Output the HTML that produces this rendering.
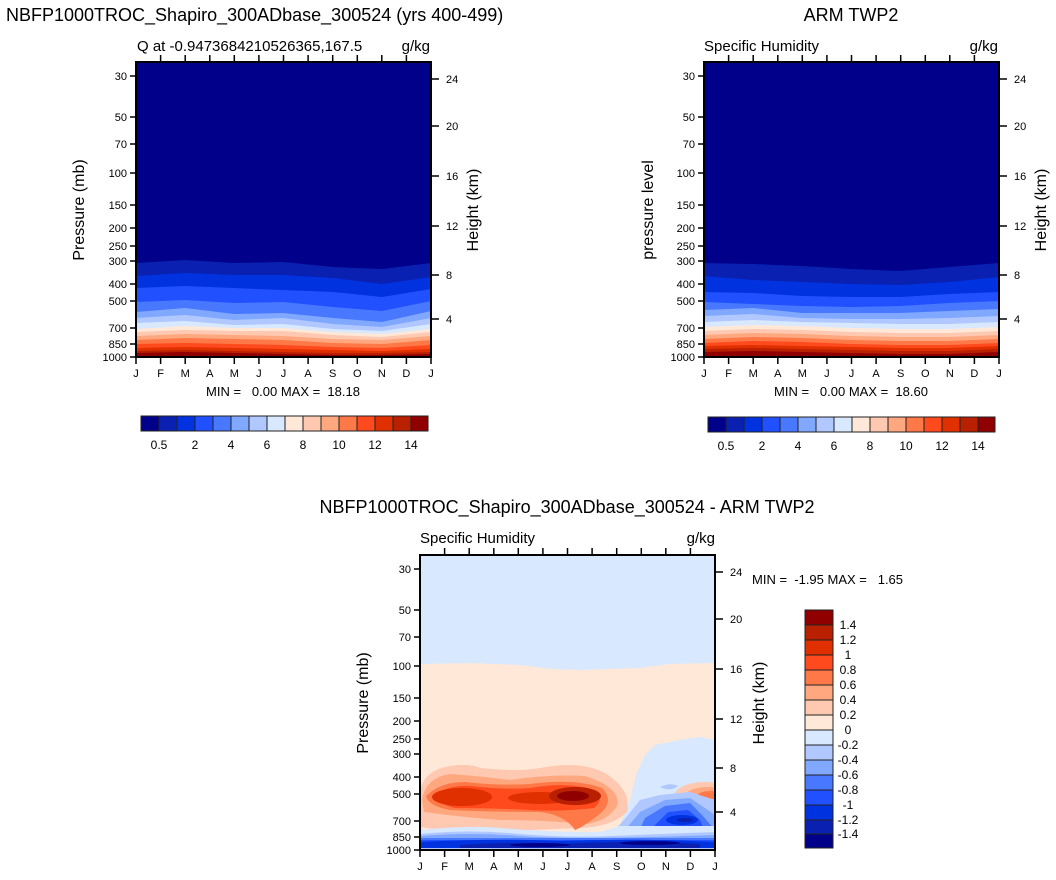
<!DOCTYPE html>
<html><head><meta charset="utf-8"><style>
html,body{margin:0;padding:0;background:#fff;}
svg{display:block;font-family:"Liberation Sans",Arial,sans-serif;}
.pre{white-space:pre;}
</style></head><body>
<svg width="1056" height="880" viewBox="0 0 1056 880" xmlns="http://www.w3.org/2000/svg">
<defs>
<g id="pticks" stroke="#000" stroke-width="1.5">
<line x1="-6" y1="76" x2="0" y2="76"/><line x1="-6" y1="117" x2="0" y2="117"/><line x1="-6" y1="144" x2="0" y2="144"/><line x1="-6" y1="173" x2="0" y2="173"/><line x1="-6" y1="205" x2="0" y2="205"/><line x1="-6" y1="228" x2="0" y2="228"/><line x1="-6" y1="246" x2="0" y2="246"/><line x1="-6" y1="261" x2="0" y2="261"/><line x1="-6" y1="284" x2="0" y2="284"/><line x1="-6" y1="301" x2="0" y2="301"/><line x1="-6" y1="328" x2="0" y2="328"/><line x1="-6" y1="344" x2="0" y2="344"/><line x1="-6" y1="357" x2="0" y2="357"/>
</g>
<g id="plabels" font-size="11" text-anchor="end">
<text x="-9" y="80">30</text><text x="-9" y="121">50</text><text x="-9" y="148">70</text><text x="-9" y="177">100</text><text x="-9" y="209">150</text><text x="-9" y="232">200</text><text x="-9" y="250">250</text><text x="-9" y="265">300</text><text x="-9" y="288">400</text><text x="-9" y="305">500</text><text x="-9" y="332">700</text><text x="-9" y="348">850</text><text x="-9" y="361">1000</text>
</g>
<g id="hticks" stroke="#000" stroke-width="1.5">
<line x1="0" y1="79" x2="8" y2="79"/><line x1="0" y1="126" x2="8" y2="126"/><line x1="0" y1="176" x2="8" y2="176"/><line x1="0" y1="226" x2="8" y2="226"/><line x1="0" y1="275" x2="8" y2="275"/><line x1="0" y1="319" x2="8" y2="319"/>
</g>
<g id="hlabels" font-size="11">
<text x="15" y="83">24</text><text x="15" y="130">20</text><text x="15" y="180">16</text><text x="15" y="230">12</text><text x="15" y="279">8</text><text x="15" y="323">4</text>
</g>
<g id="xaxis">
<g stroke="#000" stroke-width="1.5">
<line x1="0" y1="0" x2="0" y2="7"/><line x1="24.6" y1="0" x2="24.6" y2="7"/><line x1="49.2" y1="0" x2="49.2" y2="7"/><line x1="73.8" y1="0" x2="73.8" y2="7"/><line x1="98.3" y1="0" x2="98.3" y2="7"/><line x1="122.9" y1="0" x2="122.9" y2="7"/><line x1="147.5" y1="0" x2="147.5" y2="7"/><line x1="172.1" y1="0" x2="172.1" y2="7"/><line x1="196.7" y1="0" x2="196.7" y2="7"/><line x1="221.3" y1="0" x2="221.3" y2="7"/><line x1="245.8" y1="0" x2="245.8" y2="7"/><line x1="270.4" y1="0" x2="270.4" y2="7"/><line x1="295" y1="0" x2="295" y2="7"/>
</g>
</g>
<g id="xtop" stroke="#000" stroke-width="1.5">
<line x1="24.6" y1="0" x2="24.6" y2="-7"/><line x1="49.2" y1="0" x2="49.2" y2="-7"/><line x1="73.8" y1="0" x2="73.8" y2="-7"/><line x1="98.3" y1="0" x2="98.3" y2="-7"/><line x1="122.9" y1="0" x2="122.9" y2="-7"/><line x1="147.5" y1="0" x2="147.5" y2="-7"/><line x1="172.1" y1="0" x2="172.1" y2="-7"/><line x1="196.7" y1="0" x2="196.7" y2="-7"/><line x1="221.3" y1="0" x2="221.3" y2="-7"/><line x1="245.8" y1="0" x2="245.8" y2="-7"/><line x1="270.4" y1="0" x2="270.4" y2="-7"/>
</g>
<g id="xlabels" font-size="11" text-anchor="middle">
<text x="0" y="20">J</text><text x="24.6" y="20">F</text><text x="49.2" y="20">M</text><text x="73.8" y="20">A</text><text x="98.3" y="20">M</text><text x="122.9" y="20">J</text><text x="147.5" y="20">J</text><text x="172.1" y="20">A</text><text x="196.7" y="20">S</text><text x="221.3" y="20">O</text><text x="245.8" y="20">N</text><text x="270.4" y="20">D</text><text x="295" y="20">J</text>
</g>
<g id="hcbar" stroke="#222" stroke-width="1">
<rect x="0" width="18" height="15" fill="#00008a"/><rect x="18" width="18" height="15" fill="#0a20b0"/><rect x="36" width="18" height="15" fill="#0032e0"/><rect x="54" width="18" height="15" fill="#2050ff"/><rect x="72" width="18" height="15" fill="#4878ff"/><rect x="90" width="18" height="15" fill="#80a8ff"/><rect x="108" width="18" height="15" fill="#b0c8ff"/><rect x="126" width="18" height="15" fill="#d8e8ff"/><rect x="144" width="18" height="15" fill="#ffe8d8"/><rect x="162" width="18" height="15" fill="#ffc8b0"/><rect x="180" width="18" height="15" fill="#ffa880"/><rect x="198" width="18" height="15" fill="#ff7848"/><rect x="216" width="18" height="15" fill="#ff4a1e"/><rect x="234" width="18" height="15" fill="#e03000"/><rect x="252" width="18" height="15" fill="#b82000"/><rect x="270" width="17" height="15" fill="#900000"/>
</g>
<g id="hcblab" font-size="12" text-anchor="middle">
<text x="18" y="33">0.5</text><text x="54" y="33">2</text><text x="90" y="33">4</text><text x="126" y="33">6</text><text x="162" y="33">8</text><text x="198" y="33">10</text><text x="234" y="33">12</text><text x="270" y="33">14</text>
</g>
</defs>

<!-- ========== Top-left ========== -->
<text x="6" y="21" font-size="18">NBFP1000TROC_Shapiro_300ADbase_300524 (yrs 400-499)</text>
<text x="137" y="51" font-size="15">Q at -0.9473684210526365,167.5</text>
<text x="430" y="51" font-size="15" text-anchor="end">g/kg</text>
<g>
<rect x="136" y="62" width="295" height="295" fill="#00008a"/>
<g stroke="none">
<polygon fill="#0a20b0" points="136,263 185,260 234,263 283,262 333,267 382,269 431,263 431,357 136,357"/>
<polygon fill="#0032e0" points="136,276 185,273 234,275 283,275 333,278 382,284 431,277 431,357 136,357"/>
<polygon fill="#2050ff" points="136,288 185,286 234,288 283,290 333,292 382,297 431,289 431,357 136,357"/>
<polygon fill="#4878ff" points="136,302 185,300 234,303 283,302 333,307 382,311 431,301 431,357 136,357"/>
<polygon fill="#80a8ff" points="136,312 185,308 234,314 283,313 333,318 382,322 431,311 431,357 136,357"/>
<polygon fill="#b0c8ff" points="136,318 185,315 234,320 283,318 333,324 382,327 431,318 431,357 136,357"/>
<polygon fill="#d8e8ff" points="136,323 185,321 234,325 283,324 333,329 382,331 431,324 431,357 136,357"/>
<polygon fill="#ffe8d8" points="136,329 185,326 234,328 283,328 333,332 382,334 431,329 431,357 136,357"/>
<polygon fill="#ffc8b0" points="136,332 185,330 234,331 283,331 333,335 382,337 431,332 431,357 136,357"/>
<polygon fill="#ffa880" points="136,336 185,334 234,335 283,336 333,339 382,340 431,336 431,357 136,357"/>
<polygon fill="#ff7848" points="136,340 185,338 234,339 283,340 333,343 382,344 431,340 431,357 136,357"/>
<polygon fill="#ff4a1e" points="136,344 185,343 234,344 283,345 333,347 382,348 431,345 431,357 136,357"/>
<polygon fill="#e03000" points="136,348 185,347 234,348 283,349 333,350 382,351 431,349 431,357 136,357"/>
<polygon fill="#b82000" points="136,351 185,350 234,351 283,352 333,353 382,353 431,352 431,357 136,357"/>
<polygon fill="#900000" points="136,353 185,352 234,353 283,354 333,355 382,355 431,354 431,357 136,357"/>
</g>
<rect x="136" y="62" width="295" height="295" fill="none" stroke="#000" stroke-width="2"/>
<g transform="translate(136,0)"><use href="#pticks"/><use href="#plabels"/></g>
<g transform="translate(431,0)"><use href="#hticks"/><use href="#hlabels"/></g>
<g transform="translate(136,357)"><use href="#xaxis"/><use href="#xlabels"/></g>
<g transform="translate(136,62)"><use href="#xtop"/></g>
<text transform="translate(84,210) rotate(-90)" font-size="16" text-anchor="middle">Pressure (mb)</text>
<text transform="translate(478,210) rotate(-90)" font-size="16" text-anchor="middle">Height (km)</text>
<text class="pre" x="283" y="396" font-size="13" text-anchor="middle">MIN =   0.00 MAX =  18.18</text>
<g transform="translate(141,416)"><use href="#hcbar"/><use href="#hcblab"/></g>
</g>

<!-- ========== Top-right ========== -->
<text x="851" y="21" font-size="18" text-anchor="middle">ARM TWP2</text>
<text x="704" y="51" font-size="15">Specific Humidity</text>
<text x="998" y="51" font-size="15" text-anchor="end">g/kg</text>
<g>
<rect x="704" y="62" width="295" height="295" fill="#00008a"/>
<polygon fill="#0a20b0" points="704,263 753,264 802,266 851,269 900,271 949,267 999,263 999,357 704,357"/>
<polygon fill="#0032e0" points="704,276 753,280 802,282 851,284 900,285 949,282 999,277 999,357 704,357"/>
<polygon fill="#2050ff" points="704,292 753,293 802,296 851,297 900,297 949,294 999,292 999,357 704,357"/>
<polygon fill="#4878ff" points="704,302 753,304 802,306 851,307 900,306 949,303 999,301 999,357 704,357"/>
<polygon fill="#80a8ff" points="704,310 753,308 802,313 851,313 900,313 949,311 999,309 999,357 704,357"/>
<polygon fill="#b0c8ff" points="704,316 753,314 802,318 851,319 900,319 949,318 999,316 999,357 704,357"/>
<polygon fill="#d8e8ff" points="704,322 753,320 802,322 851,323 900,324 949,324 999,322 999,357 704,357"/>
<polygon fill="#ffe8d8" points="704,327 753,325 802,326 851,328 900,329 949,329 999,327 999,357 704,357"/>
<polygon fill="#ffc8b0" points="704,331 753,329 802,330 851,332 900,333 949,333 999,331 999,357 704,357"/>
<polygon fill="#ffa880" points="704,335 753,333 802,334 851,336 900,337 949,337 999,335 999,357 704,357"/>
<polygon fill="#ff7848" points="704,339 753,337 802,338 851,340 900,341 949,341 999,339 999,357 704,357"/>
<polygon fill="#ff4a1e" points="704,343 753,341 802,342 851,344 900,345 949,345 999,343 999,357 704,357"/>
<polygon fill="#e03000" points="704,346 753,345 802,346 851,347 900,348 949,348 999,346 999,357 704,357"/>
<polygon fill="#b82000" points="704,349 753,348 802,349 851,350 900,351 949,351 999,349 999,357 704,357"/>
<polygon fill="#900000" points="704,352 753,351 802,352 851,353 900,354 949,354 999,352 999,357 704,357"/>
<rect x="704" y="62" width="295" height="295" fill="none" stroke="#000" stroke-width="2"/>
<g transform="translate(704,0)"><use href="#pticks"/><use href="#plabels"/></g>
<g transform="translate(999,0)"><use href="#hticks"/><use href="#hlabels"/></g>
<g transform="translate(704,357)"><use href="#xaxis"/><use href="#xlabels"/></g>
<g transform="translate(704,62)"><use href="#xtop"/></g>
<text transform="translate(653,210) rotate(-90)" font-size="16" text-anchor="middle">pressure level</text>
<text transform="translate(1046,210) rotate(-90)" font-size="16" text-anchor="middle">Height (km)</text>
<text class="pre" x="851" y="396" font-size="13" text-anchor="middle">MIN =   0.00 MAX =  18.60</text>
<g transform="translate(708,417)"><use href="#hcbar"/><use href="#hcblab"/></g>
</g>

<!-- ========== Bottom diff ========== -->
<text x="567" y="513" font-size="18" text-anchor="middle">NBFP1000TROC_Shapiro_300ADbase_300524 - ARM TWP2</text>
<text x="420" y="543" font-size="15">Specific Humidity</text>
<text x="715" y="543" font-size="15" text-anchor="end">g/kg</text>
<svg x="420" y="555" width="295" height="295" viewBox="420 555 295 295" overflow="hidden">
<rect x="420" y="555" width="295" height="295" fill="#d8e8ff"/>
<polygon fill="#ffe8d8" points="420,664 470,663 520,665 550,669 580,670 610,669 640,668 670,664 714,663 714,850 420,850"/>
<path fill="#d8e8ff" d="M612,850 L622,820 L630,800 L636,775 L645,755 L655,745 L680,740 L700,737 L715,740 L715,850 Z"/>
<path fill="#b0c8ff" d="M660,787 Q670,782 678,786 Q670,792 660,787 Z"/>
<ellipse cx="705" cy="795" rx="30" ry="13" fill="#ffc8b0"/>
<ellipse cx="708" cy="795" rx="22" ry="8" fill="#ffa880"/>
<ellipse cx="712" cy="795" rx="14" ry="4" fill="#ff7848"/>
<path fill="#ffc8b0" d="M420,790 Q425,770 450,766 Q470,763 480,768 Q520,772 540,768 Q580,760 605,773 Q632,790 627,812 Q612,827 580,828 Q530,830 490,832 Q450,832 420,827 Z"/>
<path fill="#ffa880" d="M422,800 Q425,778 450,774 Q480,776 510,780 Q550,774 585,776 Q622,788 617,806 Q607,822 585,824 Q540,820 500,820 Q460,817 424,812 Z"/>
<path fill="#ff7848" d="M426,796 Q440,782 465,782 Q500,786 530,784 Q575,778 602,788 Q614,800 602,812 Q585,826 575,830 Q565,815 540,812 Q490,812 450,810 Q428,806 426,796 Z"/>
<path fill="#ff4a1e" d="M432,796 Q448,785 470,786 Q505,790 530,788 Q570,781 597,791 Q604,800 594,808 Q560,812 530,810 Q490,808 455,808 Q436,803 432,796 Z"/>
<ellipse cx="462" cy="797" rx="30" ry="9" fill="#e03000"/>
<ellipse cx="540" cy="798" rx="32" ry="6" fill="#e03000"/>
<ellipse cx="575" cy="796" rx="26" ry="9" fill="#b82000"/>
<ellipse cx="573" cy="796" rx="16" ry="5" fill="#900000"/>
<path fill="#b0c8ff" d="M612,850 L615,830 L628,815 L640,800 L660,795 L690,792 L715,800 L715,850 Z"/>
<path fill="#80a8ff" d="M620,850 L625,830 L640,812 L665,800 L690,798 L705,808 L715,815 L715,850 Z"/>
<path fill="#4878ff" d="M635,840 L645,818 L665,806 L690,803 L702,815 L715,830 L715,850 L635,850 Z"/>
<path fill="#2050ff" d="M650,830 L668,812 L688,810 L700,820 L705,832 L680,838 Z"/>
<ellipse cx="682" cy="820" rx="16" ry="5" fill="#0032e0"/>
<ellipse cx="685" cy="820" rx="8" ry="2" fill="#0a20b0"/>
<path fill="#d8e8ff" d="M420,830 Q470,825 500,828 Q560,833 600,832 L620,826 L715,826 L715,850 L420,850 Z"/>
<path fill="#b0c8ff" d="M420,834 Q470,829 520,834 Q570,838 610,836 L715,832 L715,850 L420,850 Z"/>
<path fill="#80a8ff" d="M420,836 Q470,832 520,836 Q570,840 715,835 L715,850 L420,850 Z"/>
<rect x="420" y="838" width="295" height="12" fill="#4878ff"/>
<rect x="420" y="840" width="295" height="10" fill="#2050ff"/>
<path fill="#0032e0" d="M420,842 Q500,838 560,841 Q640,838 715,842 L715,850 L420,850 Z"/>
<path fill="#0a20b0" d="M460,845 Q520,841 560,844 Q640,840 700,844 L700,848 L460,848 Z"/>
<ellipse cx="540" cy="845" rx="30" ry="2" fill="#00008a"/>
<ellipse cx="650" cy="843" rx="30" ry="2" fill="#00008a"/>
<rect x="420" y="848" width="295" height="2" fill="#b0c8ff"/>
</svg>
<rect x="420" y="555" width="295" height="295" fill="none" stroke="#000" stroke-width="2"/>
<g transform="translate(420,493)"><use href="#pticks"/><use href="#plabels"/></g>
<g transform="translate(715,493)"><use href="#hticks"/><use href="#hlabels"/></g>
<g transform="translate(420,850)"><use href="#xaxis"/><use href="#xlabels"/></g>
<g transform="translate(420,555)"><use href="#xtop"/></g>
<text transform="translate(368,703) rotate(-90)" font-size="16" text-anchor="middle">Pressure (mb)</text>
<text transform="translate(764,703) rotate(-90)" font-size="16" text-anchor="middle">Height (km)</text>
<text class="pre" x="752" y="584" font-size="13">MIN =  -1.95 MAX =   1.65</text>
<g stroke="#222" stroke-width="1">
<rect x="805" y="610" width="28" height="15" fill="#900000"/><rect x="805" y="625" width="28" height="15" fill="#b82000"/><rect x="805" y="640" width="28" height="15" fill="#e03000"/><rect x="805" y="655" width="28" height="15" fill="#ff4a1e"/><rect x="805" y="670" width="28" height="15" fill="#ff7848"/><rect x="805" y="685" width="28" height="15" fill="#ffa880"/><rect x="805" y="700" width="28" height="15" fill="#ffc8b0"/><rect x="805" y="715" width="28" height="15" fill="#ffe8d8"/><rect x="805" y="730" width="28" height="15" fill="#d8e8ff"/><rect x="805" y="745" width="28" height="15" fill="#b0c8ff"/><rect x="805" y="760" width="28" height="15" fill="#80a8ff"/><rect x="805" y="775" width="28" height="15" fill="#4878ff"/><rect x="805" y="790" width="28" height="15" fill="#2050ff"/><rect x="805" y="805" width="28" height="15" fill="#0032e0"/><rect x="805" y="820" width="28" height="14" fill="#0a20b0"/><rect x="805" y="834" width="28" height="14" fill="#00008a"/>
</g>
<g font-size="12" text-anchor="middle">
<text x="848" y="629">1.4</text><text x="848" y="644">1.2</text><text x="848" y="659">1</text><text x="848" y="674">0.8</text><text x="848" y="689">0.6</text><text x="848" y="704">0.4</text><text x="848" y="719">0.2</text><text x="848" y="734">0</text><text x="848" y="749">-0.2</text><text x="848" y="764">-0.4</text><text x="848" y="779">-0.6</text><text x="848" y="794">-0.8</text><text x="848" y="809">-1</text><text x="848" y="824">-1.2</text><text x="848" y="838">-1.4</text>
</g>
</svg>
</body></html>
